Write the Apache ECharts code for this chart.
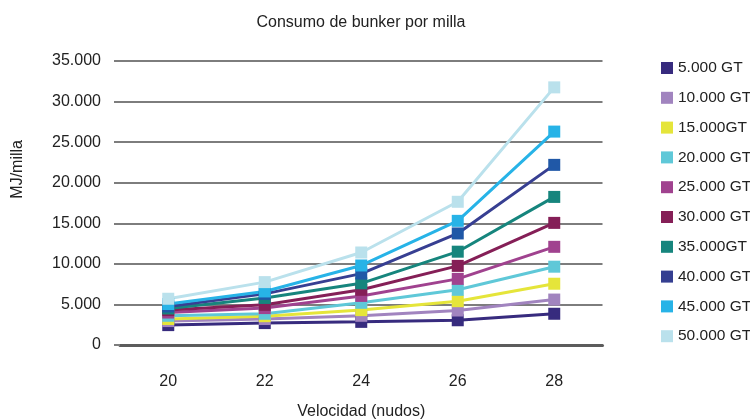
<!DOCTYPE html>
<html>
<head>
<meta charset="utf-8">
<script src="https://cdn.jsdelivr.net/npm/echarts@6/dist/echarts.min.js"></script>
<style>
  html, body { margin: 0; padding: 0; background: #fff; }
  #chart { width: 750px; height: 419px; }
</style>
</head>
<body>
<div id="chart"></div>
<script>
// Speeds in knots (x axis categories)
const speeds = ['20', '22', '24', '26', '28'];

// Ship sizes (legend names)
const sizeNames = ['5.000 GT', '10.000 GT', '15.000GT', '20.000 GT', '25.000 GT',
                   '30.000 GT', '35.000GT', '40.000 GT', '45.000 GT', '50.000 GT'];

// Bunker consumption per mile (MJ/milla), one array per ship size
const gt5000  = [2450, 2700, 2850, 3050, 3850];
const gt10000 = [2950, 3200, 3600, 4250, 5600];
const gt15000 = [3200, 3550, 4300, 5400, 7550];
const gt20000 = [3600, 3850, 5200, 6800, 9650];
const gt25000 = [4000, 4550, 6050, 8150, 12100];
const gt30000 = [4300, 4950, 6800, 9750, 15050];
const gt35000 = [4500, 5800, 7600, 11500, 18250];
const gt40000 = [4750, 6300, 8800, 13750, 22200];
const gt45000 = [5050, 6600, 9800, 15300, 26300];
const gt50000 = [5700, 7750, 11400, 17650, 31750];

const seriesValues = [gt5000, gt10000, gt15000, gt20000, gt25000,
                      gt30000, gt35000, gt40000, gt45000, gt50000];

// Value axis range
const yMin = 0, yMax = 35000, yStep = 5000;

// Palette: line colour, marker colour, legend swatch colour
const lineColors   = ['#372b7e', '#a184bf', '#e5e53a', '#5fc8d8', '#a0428f',
                      '#851f57', '#16857d', '#373f92', '#27b3e7', '#bae1ec'];
const markerColors = ['#372b7e', '#a184bf', '#e5e53a', '#5fc8d8', '#a0428f',
                      '#851f57', '#16857d', '#2058a7', '#27b3e7', '#bae1ec'];
const legendColors = ['#372b7e', '#a184bf', '#e5e53a', '#5fc8d8', '#a0428f',
                      '#851f57', '#16857d', '#353f91', '#27b3e7', '#bae1ec'];

const FONT = '"Liberation Sans", Arial, sans-serif';

function thousands(v) {
  return v === 0 ? '0' : String(v).replace(/\B(?=(\d{3})+(?!\d))/g, '.');
}

const chart = echarts.init(document.getElementById('chart'), null, { renderer: 'canvas' });

const series = sizeNames.map((name, i) => ({
  name: name,
  type: 'line',
  data: seriesValues[i],
  symbol: 'rect',
  symbolSize: 12,
  showSymbol: true,
  animation: false,
  lineStyle: { color: lineColors[i], width: 3 },
  itemStyle: { color: markerColors[i] },
  emphasis: { disabled: true }
}));

chart.setOption({
  backgroundColor: '#ffffff',
  animation: false,
  title: {
    text: 'Consumo de bunker por milla',
    left: 356,
    textAlign: 'center',
    top: 10,
    textStyle: { fontFamily: FONT, fontSize: 16, fontWeight: 'normal', color: '#222' }
  },
  legend: {
    orient: 'vertical',
    left: 656,
    top: 54,
    itemWidth: 12,
    itemHeight: 12,
    itemGap: 11.8,
    icon: 'rect',
    selectedMode: false,
    textStyle: { fontFamily: FONT, fontSize: 15.5, color: '#222', lineHeight: 18 },
    data: sizeNames.map((name, i) => ({ name: name, itemStyle: { color: legendColors[i] } }))
  },
  grid: {
    left: 120, right: 147.5, top: 61, bottom: 74,
    containLabel: false,
    outerBoundsMode: 'none'
  },
  xAxis: {
    type: 'category',
    data: speeds,
    boundaryGap: true,
    name: 'Velocidad (nudos)',
    nameLocation: 'middle',
    nameGap: 59,
    nameTextStyle: { fontFamily: FONT, fontSize: 16, color: '#222' },
    axisLine: { show: true, lineStyle: { color: '#5c5c5c', width: 3 } },
    axisTick: { show: false },
    axisLabel: { fontFamily: FONT, fontSize: 16, color: '#222', margin: 29 },
    splitLine: { show: false }
  },
  yAxis: {
    type: 'value',
    min: yMin,
    max: yMax,
    interval: yStep,
    axisLine: { show: false },
    axisTick: { show: true, length: 6, lineStyle: { color: '#7d7d7d', width: 2 } },
    axisLabel: { fontFamily: FONT, fontSize: 16, color: '#222', margin: 19, formatter: thousands },
    splitLine: { show: true, lineStyle: { color: '#7d7d7d', width: 2 } }
  },
  graphic: [{
    type: 'text',
    left: 10,
    top: 140,
    rotation: Math.PI / 2,
    style: { text: 'MJ/milla', font: '16px ' + FONT, fill: '#222' }
  }],
  series: series
});
</script>
</body>
</html>
